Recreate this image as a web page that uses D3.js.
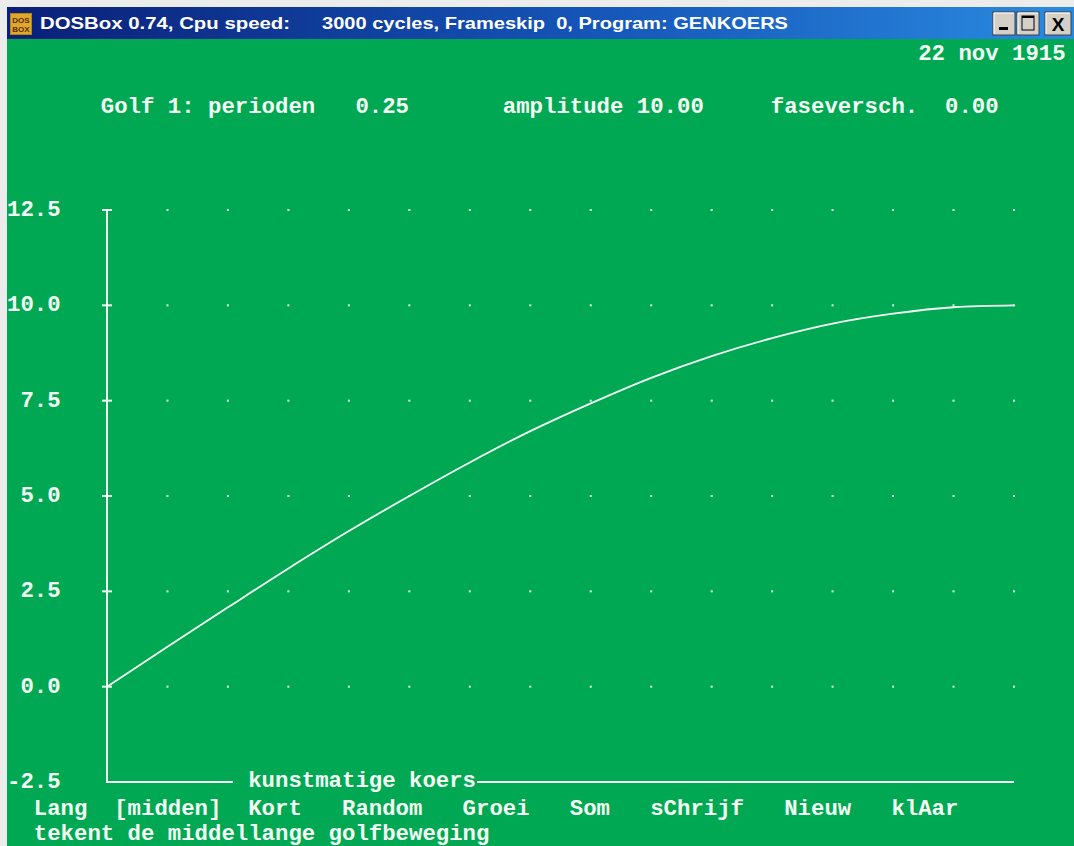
<!DOCTYPE html>
<html><head><meta charset="utf-8">
<script src="https://cdn.jsdelivr.net/npm/d3@7"></script>
<style>html,body{margin:0;padding:0;background:#f0f0f0;overflow:hidden} text{white-space:pre}</style>
</head><body>
<script>
// ---- data ----
const columns = [0,1,2,3,4,5,6,7,8,9,10,11,12,13,14,15];
const golfValues = [0, 1.05, 2.08, 3.1, 4.08, 5.0, 5.88, 6.7, 7.43, 8.1, 8.67, 9.14, 9.52, 9.78, 9.95, 10.0];
const yTicks = [12.5, 10.0, 7.5, 5.0, 2.5, 0.0, -2.5];
const yTickLabels = ["12.5", "10.0", " 7.5", " 5.0", " 2.5", " 0.0", "-2.5"];
const gridRows = [12.5, 10.0, 7.5, 5.0, 2.5, 0.0];
const gridCols = [1,2,3,4,5,6,7,8,9,10,11,12,13,14,15];
const titleLeft = "DOSBox 0.74, Cpu speed:";
const titleRight = "3000 cycles, Frameskip  0, Program: GENKOERS";
const dateText = "22 nov 1915";
const headerText = "Golf 1: perioden   0.25       amplitude 10.00     faseversch.  0.00";
const axisTitle = "kunstmatige koers";
const menuText = "Lang  [midden]  Kort   Random   Groei   Som   sChrijf   Nieuw   klAar";
const statusText = "tekent de middellange golfbeweging";

const W = 1074, H = 846;
const GREEN = "#00a853", FG = "#f4fff4";
const CW = 13.4, X0 = 7;
const FONT = "'Liberation Mono', 'DejaVu Sans Mono', monospace";

const svg = d3.select("body").append("svg").attr("width", W).attr("height", H);

// window frame
svg.append("rect").attr("x",0).attr("y",0).attr("width",W).attr("height",H).attr("fill","#ececec");
const defs = svg.append("defs");
const grad = defs.append("linearGradient").attr("id","tb").attr("x1","0").attr("x2","1");
grad.append("stop").attr("offset","0").attr("stop-color","#0a1f78");
grad.append("stop").attr("offset","0.55").attr("stop-color","#1556b8");
grad.append("stop").attr("offset","1").attr("stop-color","#2a8ae0");
svg.append("rect").attr("x",7).attr("y",7).attr("width",W-7).attr("height",32).attr("fill","url(#tb)");
svg.append("rect").attr("x",7).attr("y",39).attr("width",W-7).attr("height",H-39).attr("fill",GREEN);

// icon
const ic = svg.append("g").attr("transform","translate(10,13)");
ic.append("rect").attr("width",22).attr("height",22).attr("fill","#b8860b");
ic.append("rect").attr("x",1).attr("y",1).attr("width",20).attr("height",20).attr("fill","#e0a82a");
ic.append("text").attr("x",11).attr("y",10).attr("text-anchor","middle").attr("font-family","'Liberation Sans',sans-serif").attr("font-size",8).attr("font-weight","bold").attr("fill","#5a2a00").text("DOS");
ic.append("text").attr("x",11).attr("y",19).attr("text-anchor","middle").attr("font-family","'Liberation Sans',sans-serif").attr("font-size",8).attr("font-weight","bold").attr("fill","#5a2a00").text("BOX");

// title text
svg.append("text").attr("x",40).attr("y",29).attr("fill","#fff").attr("font-family","'Liberation Sans',Arial,sans-serif")
  .attr("font-weight","bold").attr("font-size",17).attr("textLength",250).attr("lengthAdjust","spacingAndGlyphs").text(titleLeft);
svg.append("text").attr("x",322).attr("y",29).attr("fill","#fff").attr("font-family","'Liberation Sans',Arial,sans-serif")
  .attr("font-weight","bold").attr("font-size",17).attr("textLength",466).attr("lengthAdjust","spacingAndGlyphs").text(titleRight);

// buttons
const btns = [{x:993,w:22,g:"min"},{x:1017,w:22,g:"max"},{x:1045,w:26,g:"close"}];
btns.forEach(b=>{
  const g = svg.append("g").attr("transform",`translate(${b.x},12)`);
  g.append("rect").attr("width",b.w).attr("height",23).attr("fill","#d4d0c8").attr("stroke","#404040");
  g.append("path").attr("d",`M1,22V1H${b.w-1}`).attr("stroke","#fff").attr("fill","none");
  if(b.g==="min") g.append("rect").attr("x",6).attr("y",15).attr("width",9).attr("height",3).attr("fill","#000");
  if(b.g==="max"){ g.append("rect").attr("x",5).attr("y",4).attr("width",12).attr("height",14).attr("fill","none").attr("stroke","#000").attr("stroke-width",1);
                   g.append("rect").attr("x",5).attr("y",4).attr("width",12).attr("height",2).attr("fill","#000"); }
  if(b.g==="close") g.append("text").attr("x",b.w/2).attr("y",19).attr("text-anchor","middle").attr("font-family","'Liberation Sans',sans-serif").attr("font-weight","bold").attr("font-size",19).attr("fill","#000").text("X");
});

// DOS text helper: place each word on character grid
function dosText(str, col, baseline){
  const re = /\S+/g; let m;
  while((m = re.exec(str))){
    svg.append("text").attr("x", X0 + (col + m.index)*CW).attr("y", baseline)
      .attr("fill", FG).attr("font-family", FONT).attr("font-weight","bold").attr("font-size", 22)
      .attr("textLength", m[0].length*CW).attr("lengthAdjust","spacingAndGlyphs").text(m[0]);
  }
}

// scales
const x = d3.scaleLinear().domain([0,15]).range([107,1014]);
const y = d3.scaleLinear().domain([-2.5,12.5]).range([782,210]);

// grid dots
gridRows.forEach(r => gridCols.forEach(c => {
  svg.append("rect").attr("x", x(c)-1).attr("y", y(r)-1).attr("width",2).attr("height",2).attr("fill",FG).attr("opacity",0.9);
}));

// axes
svg.append("line").attr("x1",x(0)).attr("x2",x(0)).attr("y1",y(12.5)).attr("y2",y(-2.5)).attr("stroke",FG).attr("stroke-width",2);
svg.append("line").attr("x1",x(0)-1).attr("x2",233).attr("y1",y(-2.5)).attr("y2",y(-2.5)).attr("stroke",FG).attr("stroke-width",2);
svg.append("line").attr("x1",477).attr("x2",x(15)).attr("y1",y(-2.5)).attr("y2",y(-2.5)).attr("stroke",FG).attr("stroke-width",2);
gridRows.forEach(r=>{
  svg.append("line").attr("x1",x(0)-5).attr("x2",x(0)+5).attr("y1",y(r)).attr("y2",y(r)).attr("stroke",FG).attr("stroke-width",2);
});

// y labels
yTicks.forEach((t,i)=> dosText(yTickLabels[i], 0, y(t)+6));

// curve
const line = d3.line().x((d,i)=>x(columns[i])).y(d=>y(d)).curve(d3.curveMonotoneX);
svg.append("path").datum(golfValues).attr("d",line).attr("fill","none").attr("stroke",FG).attr("stroke-width",1.8);

// texts
dosText(dateText, 68, 60);
dosText(headerText, 7, 113);
dosText(axisTitle, 18, 787);
dosText(menuText, 2, 815);
dosText(statusText, 2, 840);
</script>
</body></html>
